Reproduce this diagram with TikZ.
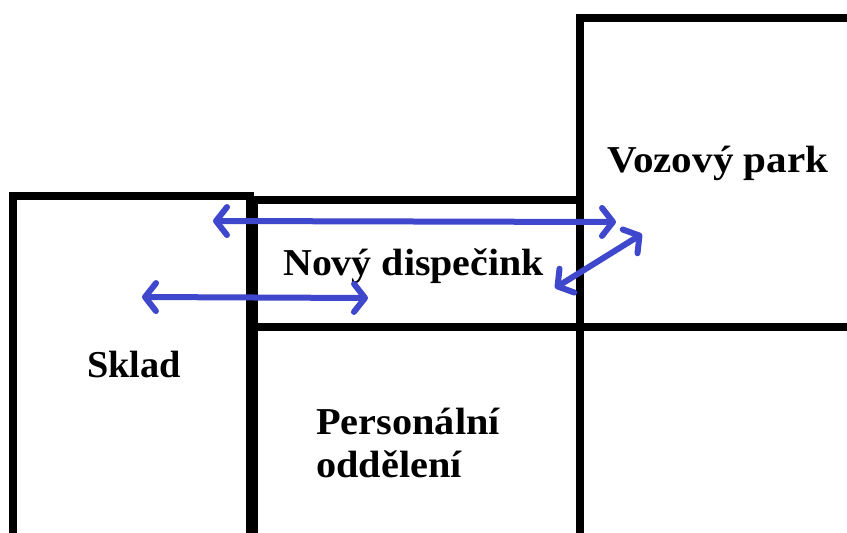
\documentclass[tikz,border=0pt]{standalone}
\usepackage{fontspec}
\setmainfont{Liberation Serif}
\usetikzlibrary{arrows.meta}
\definecolor{arrowblue}{RGB}{63,72,204}
\tikzset{
  room/.style={draw=black, line width=8pt},
  label/.style={font=\fontsize{38}{44}\selectfont\bfseries, anchor=base west, inner sep=0pt, xscale=1.05},
  link/.style={draw=arrowblue, line width=6pt, line cap=round,
    {Straight Barb[length=11pt,width=28pt,round]}-{Straight Barb[length=11pt,width=28pt,round]}}
}
\begin{document}
\begin{tikzpicture}[x=1pt,y=-1pt]
\clip (0,0) rectangle (847,533);
\fill[white] (0,0) rectangle (847,533);
% rooms
\draw[room] (13,196) rectangle (250,560);
\draw[room] (254,200) rectangle (580,327);
\draw[room] (254,327) rectangle (580,560);
\draw[room] (580,18) rectangle (880,327);
% labels
\node[label, xscale=0.96] (sklad) at (87,377) {Sklad};
\node[label] (disp) at (283,275) {Nový dispečink};
\node[label, xscale=1.01] (pers) at (316,434) {Personální};
\node[label, xscale=1.01] (odd) at (316,477) {oddělení};
\node[label, xscale=1.03] (voz) at (607,172) {Vozový park};
% arrow endpoints
\coordinate (a1) at (213,221);
\coordinate (b1) at (616,222);
\coordinate (a2) at (142,297);
\coordinate (b2) at (368,298);
\coordinate (a3) at (555,288);
\coordinate (b3) at (642,234);
\draw[link] (a1) -- (b1);
\draw[link] (a2) -- (b2);
\draw[link] (a3) -- (b3);
\end{tikzpicture}
\end{document}
